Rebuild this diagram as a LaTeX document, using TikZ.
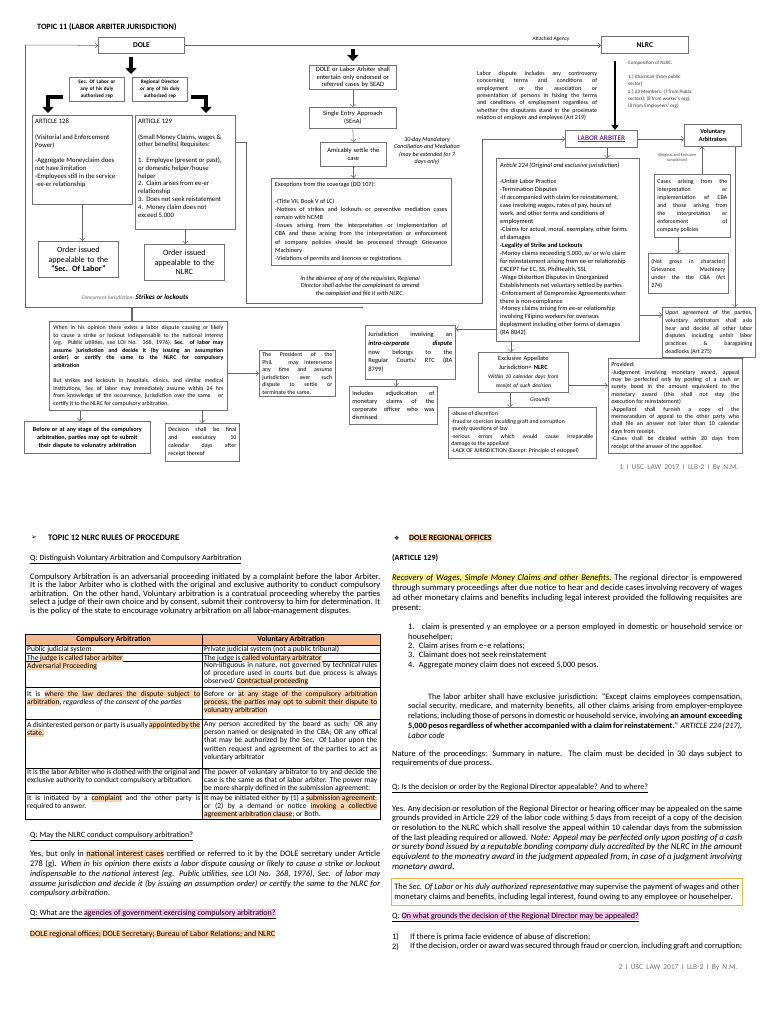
\documentclass[tikz,border=0pt]{standalone}
\usepackage{fontspec}
\setmainfont{Carlito}
\newfontfamily\dingfont{DejaVu Sans}
\usetikzlibrary{arrows.meta,positioning,calc}
\hyphenpenalty=10000
\exhyphenpenalty=10000

\definecolor{hlorange}{HTML}{FAD3B0}
\definecolor{hdrorange}{HTML}{F4B98C}
\definecolor{hlpink}{HTML}{F6C3EE}
\definecolor{hlyellow}{HTML}{FFF0A0}
\definecolor{laborpurple}{HTML}{7030A0}
\definecolor{boxyellow}{HTML}{F3B540}

\newcommand\fsz[2]{\fontsize{#1}{#2}\selectfont}
% word-by-word highlighter (breakable)
\makeatletter
\def\hlcol{hlorange}
\def\hl@stopword{\hl@stop{}}
\def\hl@word#1{{\setlength\fboxsep{0pt}\colorbox{\hlcol}{\vrule height .78em depth .26em width 0pt #1}}}
\def\hl@sp{{\color{\hlcol}\leaders\vrule height .78em depth .26em\hskip\fontdimen2\font plus\fontdimen3\font minus\fontdimen4\font}}
\def\hl@loop#1 {\def\hl@tmp{#1}\ifx\hl@tmp\hl@stopword\else\hl@sp\hl@word{#1}\expandafter\hl@loop\fi}
\def\hl@firstword#1 {\hl@word{#1}\hl@loop}
\newcommand\hlx[2]{\begingroup\def\hlcol{#1}\hl@firstword#2 \hl@stop{} \endgroup}
\makeatother
\newcommand\hlo[1]{\hlx{hlorange}{#1}}
\newcommand\hlp[1]{\hlx{hlpink}{#1}}
\newcommand\hly[1]{\hlx{hlyellow}{#1}}

\tikzset{
  box/.style={draw=black!55, line width=0.7pt, fill=white, inner sep=2pt, font=\fsz{5.9}{7.6}},
  jbox/.style={box, align=justify},
  cbox/.style={box, align=center},
  txt/.style={inner sep=0pt, font=\fsz{5.9}{7.6}},
  link/.style={draw=black!60, line width=0.5pt, -{Straight Barb[length=2.5pt,width=5pt]}},
  fat/.style={line width=4.6pt, line join=miter, -{Triangle[length=6pt,width=11pt]}},
  fatnlrc/.style={line width=2.4pt, -{Triangle[length=5pt,width=7pt]}},
  body/.style={inner sep=0pt, font=\fsz{8.4}{8.5}, align=justify, text width=350pt},
  cell/.style={inner sep=0pt, font=\fsz{7.5}{8.2}, align=justify, text width=173pt, anchor=north west},
  tabline/.style={draw=black, line width=0.6pt}
}

\begin{document}
\begin{tikzpicture}[x=1pt,y=-1pt,>=Latex]
\fill[white] (0,0) rectangle (768,1024);
\useasboundingbox (0,0) rectangle (768,1024);

% page 1: topic 11 chart
\node[anchor=west, inner sep=0pt, font=\fsz{8.1}{9}\bfseries] (title) at (37,27) {TOPIC 11 (LABOR ARBITER JURISDICTION)};
\node[cbox, minimum width=86pt, minimum height=16pt, anchor=north west, font=\fsz{7.5}{8}\bfseries] (dole) at (98,37) {DOLE};
\node[cbox, minimum width=87pt, minimum height=17pt, anchor=north west, font=\fsz{7.5}{8}\bfseries] (nlrc) at (601,36) {NLRC};

\node[cbox, minimum width=55pt, minimum height=24pt, text width=51pt, anchor=north west, font=\fsz{5.2}{7}\bfseries] (seclabor) at (69,77) {Sec. Of Labor or\\any of his duly\\authorized rep};
\node[cbox, minimum width=55pt, minimum height=24pt, text width=51pt, anchor=north west, font=\fsz{5.2}{7}\bfseries] (regdir) at (132,77) {Regional Director\\or any of his duly\\authorized rep};

\node[box, minimum width=100pt, minimum height=89pt, anchor=north west] (art128) at (32,115) {};
\node[txt, anchor=north west, align=left, font=\fsz{6.7}{7.8}] (art128-t) at ($(art128.north west)+(3,4)$) {ARTICLE 128\\[7.8pt](Visitorial and Enforcement\\Power)\\[7.8pt]-Aggregate Moneyclaim does\\not have limitation\\-Employees still in the service\\-ee-er relationship};
\node[box, minimum width=100pt, minimum height=114pt, anchor=north west] (art129) at (135,115) {};
\node[txt, anchor=north west, align=left, font=\fsz{6.7}{7.8}] (art129-t) at ($(art129.north west)+(3,4)$) {ARTICLE 129\\[7.8pt](Small Money Claims, wages \&\\other benefits) Requisites:\\[7.8pt]1.\ \ Employee (present or past),\\or domestic helper/house\\helper\\2.\ \ Claim arises from ee-er\\relationship\\3.\ \ Does not seek reistatement\\4.\ \ Money claim does not\\exceed 5,000};

\node[cbox, minimum width=80pt, minimum height=36pt, text width=76pt, anchor=north west, font=\fsz{8.1}{9.6}] (order-sec) at (38,241) {Order issued\\appealable to the\\\textbf{“Sec. Of Labor”}};
\node[cbox, minimum width=80pt, minimum height=36pt, text width=76pt, anchor=north west, font=\fsz{8.1}{9.6}] (order-nlrc) at (144,244) {Order issued\\appealable to the\\NLRC};
\node[txt, font=\fsz{5.5}{6}] (concurrent) at (135,297) {\textcolor{black!60}{\itshape Concurrent Jurisdiction:} {\fsz{7}{7}\bfseries\itshape Strikes or lockouts}};

\node[jbox, minimum width=178pt, minimum height=89pt, text width=170pt, anchor=north west, font=\fsz{5.9}{7.6}] (opinion) at (49,321) {When in his opinion there exists a labor dispute causing or likely\linebreak to cause a strike or lockout indispensable to the national interest\linebreak (eg. Public utilities, see LOI No. 368, 1976), \textbf{Sec. of labor may\linebreak assume jurisdiction and decide it (by issuing an assumption\linebreak order) or certify the same to the NLRC for compulsory\linebreak arbitration}\\[7.6pt]But strikes and lockouts in hospitals, clinics, and similar medical\linebreak institutions, Sec of labor may immediately assume within 24 hrs\linebreak from knowledge of the occurrence, jurisdiction over the same\ \ \ or\linebreak certify it to the NLRC for compulsory arbitration.};
\node[jbox, minimum width=76pt, minimum height=46pt, text width=70pt, anchor=north west] (president) at (259,350) {The President of the\linebreak Phil. may interervene\linebreak any time and assume\linebreak jurisdiction over such\linebreak dispute to settle or\linebreak terminate the same.};
\node[cbox, minimum width=126pt, minimum height=32pt, text width=122pt, anchor=north west, font=\fsz{6.2}{8}\bfseries] (before) at (24,421) {Before or at any stage of the compulsory\\arbitration, parties may opt to submit\\their dispute to volunatry arbitration};
\node[jbox, minimum width=74pt, minimum height=38pt, text width=68pt, anchor=north west, font=\fsz{6}{8}] (decision) at (165,423) {Decision shall be final\linebreak and executory 10\linebreak calendar days after\linebreak receipt thereof};

% centre column
\node[cbox, minimum width=87pt, minimum height=22pt, text width=83pt, anchor=north west, font=\fsz{6.5}{7.4}] (sead) at (309,65) {DOLE or Labor Arbiter shall\\entertain only endorsed or\\referred cases by SEAD};
\node[cbox, minimum width=87pt, minimum height=21pt, text width=83pt, anchor=north west, font=\fsz{6.5}{7.6}] (sena) at (309,107) {Single Entry Approach\\(SEnA)};
\node[cbox, minimum width=66pt, minimum height=24pt, text width=62pt, anchor=north west, font=\fsz{6.5}{7.6}] (amicable) at (320,142) {Amicably settle the\\case};
\node[txt, align=center, font=\fsz{6}{7.4}\itshape] (mandatory) at (427,151) {30-day Mandatory\\Conciliation and Mediation\\(may be extended for 7\\days only)};
\node[box, minimum width=180pt, minimum height=87pt, anchor=north west] (exceptions) at (271,178) {};
\node[txt, anchor=north west, text width=172pt, align=justify, font=\fsz{6.2}{8.2}] (exceptions-t) at ($(exceptions.north west)+(4,4)$) {Exceptions from the coverage (DO 107):\\[8.2pt]-(Title VII, Book V of LC)\\-Notices of strikes and lockouts or preventive mediation cases\linebreak remain with NCMB\\-Issues arising from the interpretation or implementation of\linebreak CBA and those arising from the interpretation or enforcement\linebreak of company policies should be processed through Grievance\linebreak Machinery\\-Violations of permits and licences or registrations};
\node[txt, align=center, font=\fsz{6.2}{7.6}\itshape] (absence) at (360,286) {In the absence of any of the requisites, Regional\\Director shall advise the complainant to amend\\the complaint and file it with NLRC.};
\node[jbox, minimum width=90pt, minimum height=54pt, text width=84pt, anchor=north west, font=\fsz{6.5}{8.6}] (intra) at (365,325) {Jurisdiction involving an\linebreak \textbf{\textit{intra-corporate dispute}}\linebreak now belongs to the\linebreak Regular Courts/ RTC (RA\linebreak 8799)};
\node[jbox, minimum width=88pt, minimum height=38pt, text width=82pt, anchor=north west, font=\fsz{6.3}{8.3}] (includes) at (349,386) {Includes adjudication of\linebreak monetary claims of the\linebreak corporate officer who was\linebreak dismissed};

% right column
\node[txt, anchor=north west, text width=120pt, align=justify, font=\fsz{6}{7.4}] (dispute) at (477,71) {Labor dispute includes any controversy\linebreak concerning terms and conditions of\linebreak employment or the association or\linebreak presentation of persons in fsixing the terms\linebreak and conditions of employment regardless of\linebreak whether the disputants stand in the proximate\linebreak relation of employer and employee (Art 219)};
\node[txt, anchor=north west, align=left, font=\fsz{5}{7.1}, text=black!80] (composition) at (628,61) {Composition of NLRC:\\[7.1pt]1.) Chairman (from public\\sector)\\2.) 23 Members: (7 from Public\\sectors); (8 from worker's org);\\(8 from Employeers' org)};
\node[cbox, minimum width=72pt, minimum height=17pt, anchor=north west, font=\fsz{7.2}{8}\bfseries, text=laborpurple] (labarb) at (565,130) {\underline{LABOR ARBITER}};
\node[cbox, minimum width=57pt, minimum height=22pt, text width=53pt, anchor=north west, font=\fsz{6.2}{7.6}\bfseries] (volarb) at (684,124) {Voluntary\\Arbitrators};
\node[txt, align=center, font=\fsz{4.2}{5.4}, text=black!70] (origexcl) at (677,158) {(Original and Exclusive\\Jurisdiction)};
\node[jbox, minimum width=76pt, minimum height=63pt, text width=70pt, anchor=north west, font=\fsz{5.9}{8}] (cba) at (654,174) {Cases arising from the\linebreak interpretation or\linebreak implementation of CBA\linebreak and those arising from\linebreak the interpretation or\linebreak enforcement of\linebreak company policies};
\node[jbox, minimum width=80pt, minimum height=40pt, text width=74pt, anchor=north west, font=\fsz{5.9}{8}] (grievance) at (648,253) {(Not gross in character)\linebreak Grievance Machinery\linebreak under the the CBA (Art\linebreak 274)};
\node[jbox, minimum width=93pt, minimum height=50pt, text width=87pt, anchor=north west, font=\fsz{5.9}{7.7}] (upon) at (662,307) {Upon agreement of the parties,\linebreak voluntary arbitrators shall aslo\linebreak hear and decide all other labor\linebreak disputes including unfair labor\linebreak practices \& baragaining\linebreak deadlocks (Art 275)};
\node[box, minimum width=143pt, minimum height=183pt, anchor=north west] (art224) at (496,158) {};
\node[txt, anchor=north west, align=left, font=\fsz{6.4}{7.95}] (art224-t) at ($(art224.north west)+(4,5)$) {\textit{Article 224 (Original and exclusive jurisdiction)}\\[7.95pt]-Unfair Labor Practice\\-Termination Disputes\\-If accompanied with claim for reinstatement,\\case involving wages, rates of pay, hours of\\work, and other terms and conditions of\\employment\\-Claims for actual, moral, exemplary, other forms\\of damages\\\textbf{-Legality of Strike and Lockouts}\\-Money claims exceeding 5,000, w/ or w/o claim\\for reinstatement arising from ee-er relationship\\EXCEPT for EC, SS, PhilHealth, SSL\\-Wage Distortion Disputes in Unorganized\\Establishments not voluntary settled by parties\\-Enforcement of Compromise Agreements when\\there is non-compliance\\-Money claims arising frm ee-er relationship\\involving Filipino workers for overseas\\deployment including other forms of damages\\(RA 8042)};
\node[cbox, minimum width=90pt, minimum height=40pt, text width=86pt, anchor=north west, font=\fsz{6.4}{9}] (appellate) at (478,352) {Exclusive Appellate\\Jurisdiction= \textbf{NLRC}\\\fsz{5.6}{9}\itshape Within 10 calendar days from\\receipt of such decision};
\node[jbox, minimum width=134pt, minimum height=95pt, text width=128pt, anchor=north west, font=\fsz{6}{7.4}] (provided) at (608,358) {Provided:\\-Judgement involving monetary award, appeal\linebreak may be perfected only by posting of a cash or\linebreak surety bond in the amount equivalent to the\linebreak monetary award (this shall not stay the\linebreak execution for reinstatement)\\-Appellant shall furnish a copy of the\linebreak memorandum of appeal to the other party who\linebreak shall file an answer not later than 10 calendar\linebreak days from receipt.\\-Cases shall be dicided within 20 days from\linebreak receipt of the answer of the appellee.};
\node[txt, font=\fsz{5.8}{7}\itshape] (groundslbl) at (540,400) {Grounds};
\node[jbox, minimum width=148pt, minimum height=51pt, text width=142pt, anchor=north west, font=\fsz{5.8}{7.4}] (grounds) at (448,407) {-abuse of discretion\\-fraud or coercion inculding graft and corruption\\-purely questions of law\\-serious errors which would cause irreparable\linebreak damage to the appellant\\-LACK OF JURISDICTION (Except: Principle of estoppel)};
\node[txt, font=\fsz{7.4}{8}, text=black!55] (footer1) at (679,468) {1\ \ I\ \ USC\ \ LAW\ \ 2017\ \ I\ \ LLB-2\ \ I\ \ By\ \ N.M.};

% connectors
\coordinate (frame-tl) at (25,45);
\coordinate (frame-bl) at (25,307);
\coordinate (frame-br) at (363,307);
\coordinate (frame-dn) at (132,307);
\draw[link] (frame-tl) -- (dole.west);
\draw[draw=black!60, line width=0.6pt] (frame-tl) -- (frame-bl) -- (frame-br);
\draw[link] (dole.east) -- node[pos=0.88, above=4pt, inner sep=0pt, font=\fsz{5.4}{6}] (attached) {Attached Agency} (dole.east -| nlrc.west);
\coordinate (fat-top-a) at (131,57);
\coordinate (fat-top-b) at (131,74);
\draw[fat] (fat-top-a) -- (fat-top-b);
\coordinate (fat-sec-a) at (63,97);
\coordinate (fat-sec-b) at (48,97);
\coordinate (fat-sec-c) at (48,113);
\draw[fat] (fat-sec-a) -- (fat-sec-b) -- (fat-sec-c);
\coordinate (fat-rd-a) at (191,97);
\coordinate (fat-rd-b) at (206,97);
\coordinate (fat-rd-c) at (206,113);
\draw[fat] (fat-rd-a) -- (fat-rd-b) -- (fat-rd-c);
\draw[link] (art128.south) -- (art128.south |- order-sec.north);
\draw[link] (art129.south) -- (art129.south |- order-nlrc.north);
\draw[draw=black!60, line width=1.4pt] (frame-dn) -- (frame-dn |- opinion.north);
\draw[link] (opinion.east |- president.west) -- (president.west);
\coordinate (opinion-s1) at ($(opinion.south west)+(31,0)$);
\coordinate (opinion-s2) at ($(opinion.south west)+(153,0)$);
\draw[link] (opinion-s1) -- (opinion-s1 |- before.north);
\draw[link] (opinion-s2) -- (opinion-s2 |- decision.north);

\coordinate (fat-mid-a) at ($(sead.north)+(0,-16)$);
\coordinate (fat-mid-b) at ($(sead.north)+(0,-4)$);
\draw[fat] (fat-mid-a) -- (fat-mid-b);
\draw[link] (sead.south) -- (sena.north);
\draw[link] (sena.south) -- (amicable.north);
\draw[link] (amicable.south) -- (amicable.south |- exceptions.north);
\coordinate (route-a) at (246,142);
\coordinate (route-b) at (246,303);
\coordinate (route-c) at (482,303);
\coordinate (route-d) at (482,139);
\draw[link] (art129.east |- route-a) -- (route-a) -- (route-b) -- (route-c) -- (route-d) -- (route-d -| labarb.west);

\coordinate (fat-nlrc-a) at ($(nlrc.south west)+(14,7)$);
\draw[fatnlrc] (fat-nlrc-a) -- (fat-nlrc-a |- labarb.north);
\draw[link] (labarb.east) -- (labarb.east -| volarb.west);
\coordinate (labarb-dn) at ($(labarb.south west)+(42,0)$);
\draw[link] (labarb-dn) -- (labarb-dn |- art224.north);
\coordinate (cba-up) at ($(cba.north west)+(48,0)$);
\coordinate (cba-dn) at ($(cba.south west)+(24,0)$);
\coordinate (volarb-dn) at ($(volarb.south west)+(51,0)$);
\draw[link] (cba-up) -- (cba-up |- volarb.south);
\draw[link] (cba-dn) -- (cba-dn |- grievance.north);
\draw[link] (volarb-dn) -- (volarb-dn |- upon.north);
\coordinate (art224-e) at ($(art224.north east)+(0,157)$);
\coordinate (art224-w) at ($(art224.north west)+(0,171)$);
\coordinate (art224-s) at ($(art224.south west)+(15,0)$);
\draw[link] (art224-e) -- (art224-e -| upon.west);
\draw[link] (art224-w) -- (art224-w -| intra.east);
\coordinate (intra-dn) at ($(intra.south west)+(31,0)$);
\draw[link] (intra-dn) -- (intra-dn |- includes.north);
\draw[link] (art224-s) -- (art224-s |- appellate.north);
\coordinate (appellate-e) at ($(appellate.south east)+(0,-7)$);
\coordinate (appellate-s) at ($(appellate.south west)+(32,0)$);
\draw[link] (appellate-e) -- (appellate-e -| provided.west);
\draw[link] (appellate-s) -- (appellate-s |- grounds.north);

% page 2, left column
\node[txt, anchor=west, font=\dingfont\fsz{7}{8}] (bullet12) at (31,538) {➢};
\node[txt, anchor=west, font=\fsz{8.4}{9}\bfseries] (topic12) at (48,538) {TOPIC 12 NLRC RULES OF PROCEDURE};
\node[txt, anchor=west, font=\fsz{8}{9}] (q-distinguish) at (30,559) {\underline{Q: Distinguish Voluntary Arbitration and Compulsory Aarbitration}};
\node[body, anchor=north west] (p-compulsory) at (30,573) {Compulsory Arbitration is an adversarial proceeding initiated by a complaint before the labor Arbiter. It is the labor Arbiter who is clothed with the original and exclusive authority to conduct compulsory arbitration. On the other hand, Voluntary arbitration is a contratual proceeding whereby the parties select a judge of their own choice and by consent, submit their controversy to him for determination. It is the policy of the state to encourage volunatry arbitration on all labor-management disputes.};

\fill[hdrorange] (25,634) rectangle (380,645);
\foreach \ry in {645,653,661,687,719,768,793}
  \draw[tabline] (25,\ry) -- (380,\ry);
\draw[tabline] (25,634) rectangle (380,819);
\draw[tabline] (202,634) -- (202,819);
\node[font=\fsz{7.6}{8}\bfseries, inner sep=0pt] (hdr-comp) at (113.5,639.5) {Compulsory Arbitration};
\node[font=\fsz{7.6}{8}\bfseries, inner sep=0pt] (hdr-vol) at (291,639.5) {Voluntary Arbitration};
\node[cell] (c1l) at (27,646) {Public judicial system};
\node[cell] (c1r) at (204,646) {Private judicial system (not a public tribunal)};
\node[cell] (c2l) at (27,654) {The \hlo{judge is called labor arbiter}};
\node[cell] (c2r) at (204,654) {The judge is \hlo{called voluntary arbitrator}};
\node[cell] (c3l) at (27,662) {\hlo{Adversarial Proceeding}};
\node[cell] (c3r) at (204,662) {Non-litiguous in nature, not governed by technical rules of procedure used in courts but due process is always observed/ \hlo{Contractual proceeding}};
\node[cell] (c4l) at (27,690) {It is \hlo{where the law declares the dispute subject to arbitration}, \textit{regardless of the consent of the parties}};
\node[cell] (c4r) at (204,690) {Before or \hlo{at any stage of the compulsory arbitration process, the parties may opt to submit their dispute to volunatry arbitration}};
\node[cell] (c5l) at (27,721) {A disinterested person or party is usually \hlo{appointed by the state.}};
\node[cell] (c5r) at (204,721) {Any person accredited by the board as such; OR any person named or designated in the CBA; OR any offical that may be authorized by the Sec. Of Labor upon the written request and agreement of the parties to act as voluntary arbitrator};
\node[cell] (c6l) at (27,769) {It is the labor Arbiter who is clothed with the original and exclusive authority to conduct compulsory arbitration.};
\node[cell] (c6r) at (204,769) {The power of voluntary arbitrator to try and decide the case is the same as that of labor arbiter. The power may be more sharply defined in the submission agreement.};
\node[cell] (c7l) at (27,794) {It is initiated by a \hlo{complaint} and the other party is required to answer.};
\node[cell] (c7r) at (204,794) {It may be initiated either by (1) a \hlo{submission agreement}; or (2) by a demand or notice \hlo{invoking a collective agreement arbitration clause}; or Both.};

\node[txt, anchor=west, font=\fsz{8}{9}] (q-nlrc) at (30,836) {\underline{Q: May the NLRC conduct compulsory arbitration?}};
\node[body, anchor=north west, font=\fsz{8.4}{9.8}] (p-national) at (30,850) {Yes, but only in \hlo{national interest cases} certified or referred to it by the DOLE secretary under Article 278 (g). \textit{When in his opinion there exists a labor dispute causing or likely to cause a strike or lockout indispensable to the national interest (eg. Public utilities, see LOI No. 368, 1976), Sec. of labor may assume jurisdiction and decide it (by issuing an assumption order) or certify the same to the NLRC for compulsory arbitration.}};
\node[txt, anchor=west, font=\fsz{8}{9}] (q-agencies) at (30,914) {\underline{Q: What are the \hlp{agencies of government exercising compulsory arbitration?}}};
\node[txt, anchor=west, font=\fsz{8}{9}] (a-agencies) at (30,934) {\hlo{DOLE regional offices; DOLE Secretary; Bureau of Labor Relations; and NLRC}};

% page 2, right column
\node[txt, anchor=west, font=\dingfont\fsz{6}{7}] (bullet-dole) at (394,538) {❖};
\node[txt, anchor=west, font=\fsz{8}{9}\bfseries] (dole-offices) at (409,538) {\hlo{DOLE REGIONAL OFFICES}};
\node[txt, anchor=west, font=\fsz{8}{9}\bfseries] (art129-hd) at (392,558) {(ARTICLE 129)};
\node[body, anchor=north west, font=\fsz{8.6}{10}] (p-recovery) at (392,574) {{\itshape\hly{Recovery of Wages, Simple Money Claims and other Benefits.}} The regional director is empowered through summary proceedings after due notice to hear and decide cases involving recovery of wages ad other monetary claims and benefits including legal interest provided the following requisites are present:};
\node[body, anchor=north west, text width=334pt, font=\fsz{8.3}{9.3}] (requisites) at (408,624) {1.~ claim is presented y an employee or a person employed in domestic or household service or househelper;\\2.~ Claim arises from e--e relations;\\3.~ Claimant does not seek reinstatement\\4.~ Aggregate money claim does not exceed 5,000 pesos.};
\node[body, anchor=north west, text width=334pt, font=\fsz{8.2}{9.8}] (p-exclusive) at (408,693) {\hspace*{20pt}The labor arbiter shall have exclusive jurisdiction: “Except claims employees compensation, social security, medicare, and maternity benefits, all other claims arising from employer-employee relations, including those of persons in domestic or household service, involving \textbf{an amount exceeding 5,000 pesos regardless of whether accompanied with a claim for reinstatement.}” \textit{ARTICLE 224 (217), Labor code}};
\node[body, anchor=north west, font=\fsz{8.4}{9.3}] (p-nature) at (392,750) {Nature of the proceedings: Summary in nature. The claim must be decided in 30 days subject to requirements of due process.};
\node[txt, anchor=west, font=\fsz{8}{9}] (q-appealable) at (392,788) {\underline{Q: Is the decision or order by the Regional Director appealable? And to where?}};
\node[body, anchor=north west, font=\fsz{8.4}{9.7}] (p-appeal) at (392,805) {Yes. Any decision or resolution of the Regional Director or hearing officer may be appealed on the same grounds provided in Article 229 of the labor code withing 5 days from receipt of a copy of the decision or resolution to the NLRC which shall resolve the appeal within 10 calendar days from the submission of the last pleading required or allowed. {\fsz{8.9}{9.7}\itshape Note: Appeal may be perfected only upon posting of a cash or surety bond issued by a reputable bonding company duly accredited by the NLRC in the amount equivalent to the moneatry award in the judgment appealed from, in case of a judgment involving monetary award.}};
\node[jbox, draw=boxyellow, line width=0.9pt, minimum width=351pt, minimum height=27pt, text width=345pt, anchor=north west, font=\fsz{8.3}{10}] (supervise) at (391,878) {The \textit{Sec. Of Labor or his duly authorized representative} may supervise the payment of wages and other monetary claims and benefits, including legal interest, found owing to any employee or househelper.};
\node[txt, anchor=west, font=\fsz{8}{9}] (q-grounds) at (392,917) {\underline{Q: \hlp{On what grounds the decision of the Regional Director may be appealed?}}};
\node[txt, anchor=west, font=\fsz{8.3}{9}] (g1-num) at (392,937) {1)};
\node[txt, anchor=west, font=\fsz{8.3}{9}] (g1-txt) at (410,937) {If there is prima facie evidence of abuse of discretion;};
\node[txt, anchor=north west, font=\fsz{8.3}{9}] (g2-num) at (392,943) {2)};
\node[body, anchor=north west, text width=332pt, font=\fsz{8.3}{9}] (g2-txt) at (410,943) {If the decision, order or award was secured through fraud or coercion, including graft and corruption;};
\node[txt, font=\fsz{7.4}{8}, text=black!55] (footer2) at (678,968) {2\ \ I\ \ USC\ \ LAW\ \ 2017\ \ I\ \ LLB-2\ \ I\ \ By\ \ N.M.};
\end{tikzpicture}
\end{document}
